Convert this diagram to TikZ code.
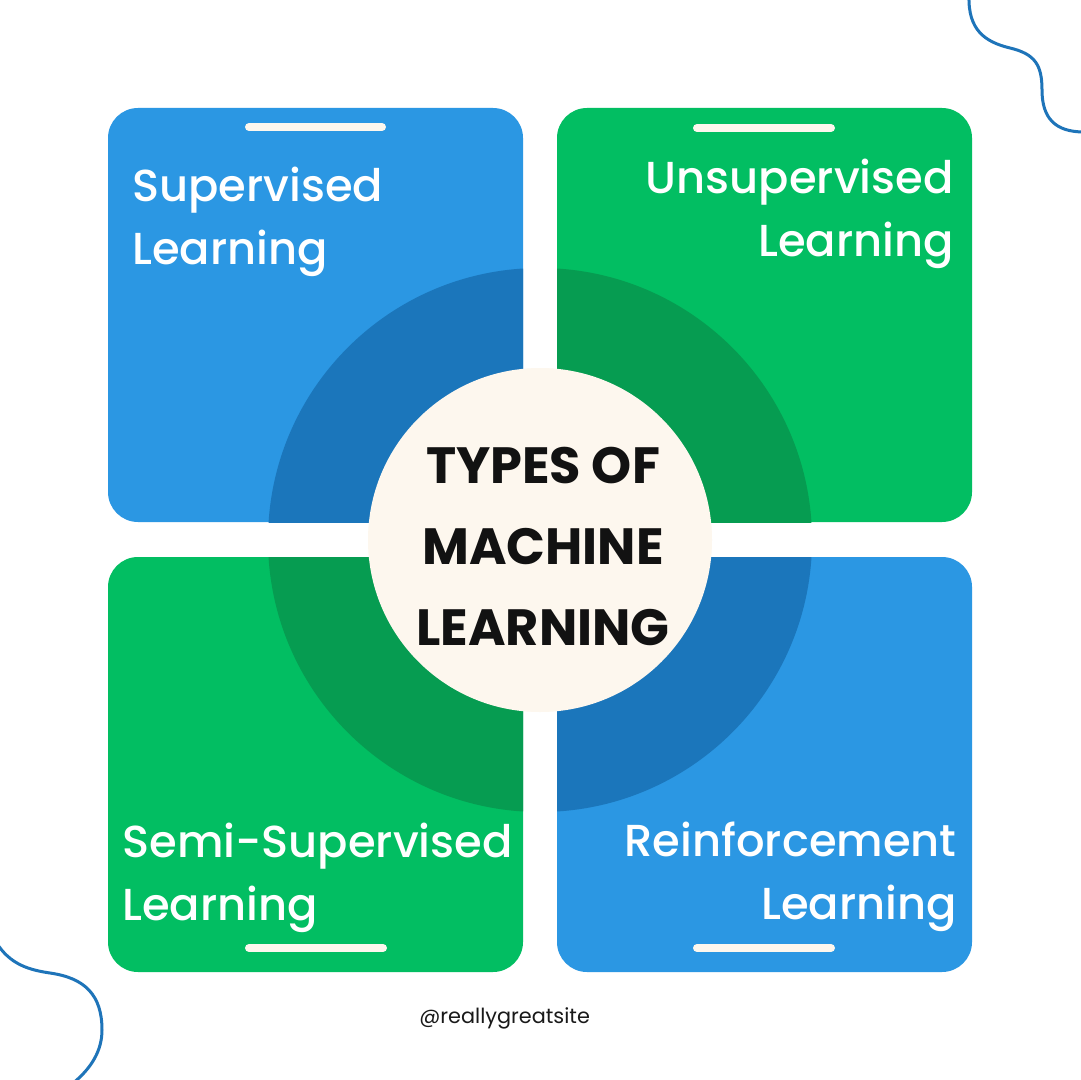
\documentclass[tikz,border=0pt]{standalone}
\usepackage{fontspec}
\setmainfont{Poppins}
\newfontfamily\cardfont{Poppins Medium}
\definecolor{mlblue}{HTML}{2B97E3}
\definecolor{mlbluedark}{HTML}{1B76BB}
\definecolor{mlgreen}{HTML}{02BE62}
\definecolor{mlgreendark}{HTML}{069C51}
\definecolor{cream}{HTML}{FDF7EE}
\definecolor{wave}{HTML}{1E74B9}
\tikzstyle{card} = [rounded corners=15pt]
\tikzstyle{bar} = [cream, line width=4pt, line cap=round]
\tikzstyle{label} = [text=white, inner sep=0pt, font=\cardfont\fontsize{22.4}{31.5}\selectfont]
\tikzstyle{wavy} = [wave, line width=1.5pt]

\begin{document}
\begin{tikzpicture}[x=0.5pt,y=-0.5pt]
\useasboundingbox (0,0) rectangle (1080,1080);
\fill[white] (0,0) rectangle (1080,1080);
%\draw[step=20, very thin,black!20] (0,0) grid (1080,1080);
\fill[card, mlblue] (108,108) rectangle (523,522);
\fill[card, mlgreen] (557,108) rectangle (972,522);
\fill[card, mlgreen] (108,557) rectangle (523,972);
\fill[card, mlblue] (557,557) rectangle (972,972);
\begin{scope}
\clip (108,108) rectangle (523,522);
\fill[mlbluedark] (540,540) circle[radius=136pt];
\end{scope}
\begin{scope}
\clip (557,108) rectangle (972,522);
\fill[mlgreendark] (540,540) circle[radius=136pt];
\end{scope}
\begin{scope}
\clip (108,557) rectangle (523,972);
\fill[mlgreendark] (540,540) circle[radius=136pt];
\end{scope}
\begin{scope}
\clip (557,557) rectangle (972,972);
\fill[mlbluedark] (540,540) circle[radius=136pt];
\end{scope}
\fill[cream] (540,540) circle[radius=86pt];
\draw[bar] (249,127) -- (382,127);
\draw[bar] (697,128) -- (831,128);
\draw[bar] (249,948) -- (383,948);
\draw[bar] (697,948) -- (831,948);
% base anchor = last line
\node[label, anchor=base west, align=left] (sup) at (132,265) {Supervised\\Learning};
\node[label, anchor=base east, align=right] (unsup) at (954,257) {Unsupervised\\Learning};
\node[label, anchor=base west, align=left] (semi) at (122,920) {Semi-Supervised\\Learning};
\node[label, anchor=base east, align=right] (reinf) at (957,919) {Reinforcement\\Learning};
\node[text=black!93, inner sep=0pt, align=center, anchor=base,
  font=\fontsize{25.5}{40.5}\selectfont\bfseries] (title) at (543,645) {TYPES OF\\MACHINE\\LEARNING};
\node[text=black!90, inner sep=0pt, anchor=base west, font=\fontsize{10.4}{12}\selectfont] (handle) at (419,1023) {@reallygreatsite};
\draw[wavy] (969,-4) .. controls (968,30) and (985,42) .. (1010,48)
  .. controls (1035,54) and (1042,65) .. (1042,90)
  .. controls (1042,118) and (1055,132) .. (1084,132);
\draw[wavy] (-4,942) .. controls (10,965) and (30,970) .. (50,973)
  .. controls (85,978) and (102,995) .. (102,1030)
  .. controls (102,1050) and (92,1068) .. (72,1084);
\end{tikzpicture}
\end{document}
